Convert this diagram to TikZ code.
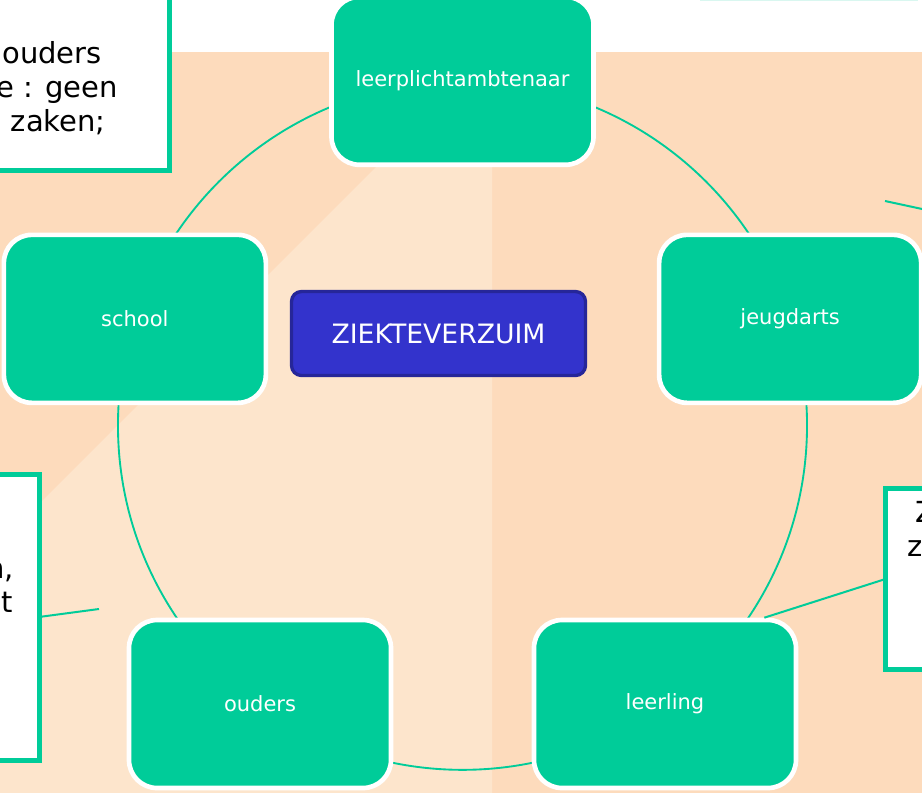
\documentclass[tikz,border=0pt]{standalone}
\usepackage{fontspec}
\setmainfont{DejaVu Sans}
\usepackage{tikz}
\usetikzlibrary{positioning,calc}
\definecolor{zvgreen}{RGB}{0,204,153}
\definecolor{zvblue}{RGB}{51,51,204}
\definecolor{zvnavy}{RGB}{38,38,153}
\definecolor{zvpeach}{RGB}{253,219,188}
\definecolor{zvlight}{RGB}{253,229,204}

\begin{document}
\begin{tikzpicture}[
        x=0.75pt, y=-0.75pt,
        actor/.style={rectangle, rounded corners=21pt, draw=white, line width=3.5pt, fill=zvgreen, text=white, minimum width=196.5pt, minimum height=126pt, font=\fontsize{15.75pt}{19pt}\selectfont},
        topic/.style={rectangle, rounded corners=7.5pt, draw=zvnavy, line width=2.5pt, fill=zvblue, text=white, minimum width=220.5pt, minimum height=63pt, font=\fontsize{20pt}{24pt}\selectfont},
        note/.style={rectangle, draw=zvgreen, line width=3.75pt, fill=white, outer sep=0pt},
        notetext/.style={text=black, inner sep=0pt, font=\fontsize{21.75pt}{26pt}\selectfont},
        link/.style={draw=zvgreen, line width=1.5pt}
    ]
        \useasboundingbox (0,0) rectangle (922,793);

        % background
        \fill[zvpeach] (0,52) rectangle (922,793);
        \fill[zvlight] (492,51) -- (492,793) -- (0,793) -- (0,543) -- cycle;

        \coordinate (hub) at (462.5,425.3);
        \draw[link, line width=1.4pt] (hub) circle [radius=258.4pt];

        % notes at the edges
        \node[note, anchor=south east, minimum width=160pt, minimum height=160pt] (noteTL) at (169.5,170.5) {};
        \node[note, anchor=north east, minimum width=80pt, minimum height=214.5pt] (noteL) at (39,474) {};
        \node[note, anchor=north west, minimum width=80pt, minimum height=135.75pt] (noteR) at (885.5,488.5) {};
        \draw[zvgreen!15, line width=1pt] (700,0.5) -- (918,0.5);

        \node[notetext, anchor=base east] (tlA) at (102,63) {ouders};
        \node[notetext, anchor=base east] (tlB) at (118,97) {e : geen};
        \node[notetext, anchor=base east] (tlC) at (106,131) {zaken;};
        \node[notetext, anchor=base east] (lA) at (14,578) {n,};
        \node[notetext, anchor=base east] (lB) at (13,612) {t};
        \node[notetext, anchor=base west] (rA) at (915,522) {Z};
        \node[notetext, anchor=base west] (rB) at (907,556) {z};

        % ring of actors
        \node[actor] (leerplicht) at ($(hub)+(270:344.5)$) {leerplichtambtenaar};
        \node[actor] (school) at ($(hub)+(198:344.5)$) {school};
        \node[actor] (jeugdarts) at ($(hub)+(342:344.5)$) {jeugdarts};
        \node[actor] (ouders) at ($(hub)+(126:344.5)$) {ouders};
        \node[actor] (leerling) at ($(hub)+(54:344.5)$) {leerling};

        \node[topic] (verzuim) at (438.5,333.5) {ZIEKTEVERZUIM};

        % loose ends
        \coordinate (endL) at (99,609);
        \coordinate (endT) at (885,201);
        \coordinate (offR) at (930,210.7);
        \draw[link] (noteL.east) -- (endL);
        \draw[link] (noteR.west) -- ($(leerling.north east)+(-34,0)$);
        \draw[link] (endT) -- (offR);
    \end{tikzpicture}
\end{document}
